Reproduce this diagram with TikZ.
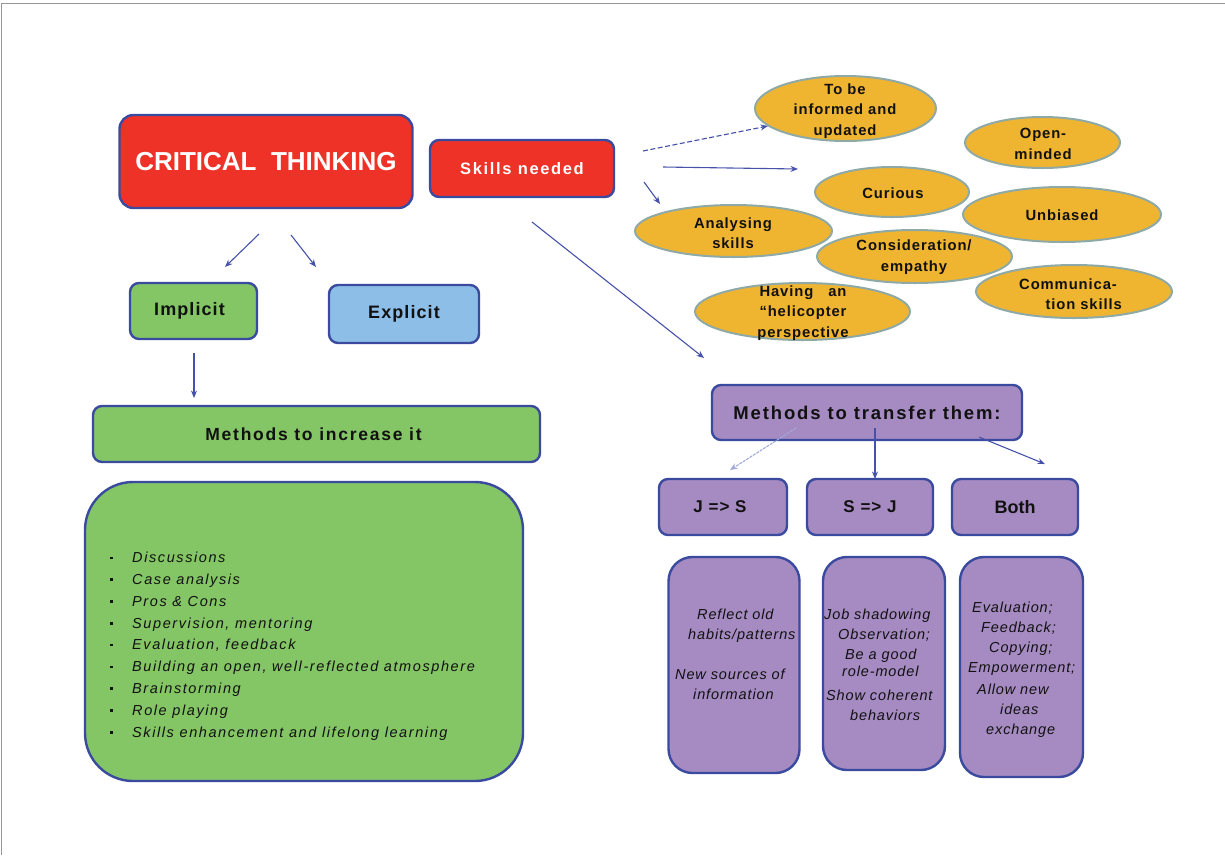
\documentclass[tikz,border=0pt]{standalone}
\usepackage{fontspec}
\setmainfont{Liberation Sans}
\newfontfamily\lsTen[LetterSpace=10]{Liberation Sans}
\newfontfamily\lsSix[LetterSpace=6]{Liberation Sans}
\newfontfamily\lsNine[LetterSpace=11]{Liberation Sans}
\usetikzlibrary{arrows.meta,shapes.geometric}
\definecolor{redf}{RGB}{238,50,40}
\definecolor{bordc}{RGB}{58,74,158}
\definecolor{greenf}{RGB}{132,197,101}
\definecolor{bluef}{RGB}{141,190,232}
\definecolor{purpf}{RGB}{166,139,194}
\definecolor{ellf}{RGB}{240,181,48}
\definecolor{ellb}{RGB}{143,170,166}
\definecolor{arrc}{RGB}{70,82,170}
\definecolor{arrl}{RGB}{160,168,218}
\definecolor{framec}{RGB}{150,150,150}
\definecolor{txtc}{RGB}{17,17,17}
\begin{document}
\begin{tikzpicture}[x=1pt,y=-1pt,
  box/.style={draw=bordc, line width=2.4pt, rounded corners=9pt, inner sep=0pt, align=center, text=txtc},
  ell/.style={ellipse, draw=ellb, line width=2pt, fill=ellf, inner sep=0pt},
  etext/.style={align=center, text=txtc, font=\lsSix\bfseries\fontsize{14.8}{20.5}\selectfont, inner sep=0pt},
  itext/.style={align=left, text=txtc, font=\lsSix\itshape\fontsize{14.5}{20}\selectfont, inner sep=0pt, anchor=north west},
  arr/.style={draw=arrc, line width=1.1pt, -{Stealth[length=7.5pt,width=6pt]}},
  framel/.style={draw=framec, line width=1pt}
]
\useasboundingbox (0,0) rectangle (1225,855);
\draw[framel] (1225,3) -- (1.5,3) -- (1.5,855);

% left part
\node[box, fill=redf, minimum width=293pt, minimum height=93pt, rounded corners=14pt, text=white, font=\bfseries\fontsize{26}{30}\selectfont] (ct) at (266,161.5) {CRITICAL\ \ THINKING};
\node[box, fill=redf, minimum width=184pt, minimum height=57pt, text=white, font=\lsTen\bfseries\fontsize{16.5}{20}\selectfont] (skills) at (522,168.5) {Skills needed};
\node[box, fill=greenf, minimum width=127pt, minimum height=56pt, font=\lsSix\bfseries\fontsize{18}{22}\selectfont] (impl) at (193.5,311) {\hspace*{-8pt}Implicit};
\node[box, fill=bluef, minimum width=150pt, minimum height=58pt, font=\lsSix\bfseries\fontsize{18}{22}\selectfont] (expl) at (404,314) {Explicit};
\node[box, fill=greenf, minimum width=447pt, minimum height=56pt, font=\lsTen\bfseries\fontsize{17.5}{20}\selectfont] (inc) at (316.5,434) {\hspace*{-6pt}Methods to increase it};
\node[box, fill=greenf, minimum width=438pt, minimum height=299pt, rounded corners=48pt] (list) at (304,631.5) {};
\node[itext, font=\lsNine\itshape\fontsize{14.5}{21.8}\selectfont] (listtxt) at (110,552) {%
\makebox[22pt][l]{\rule[3.5pt]{2.6pt}{2.6pt}}Discussions\\
\makebox[22pt][l]{\rule[3.5pt]{2.6pt}{2.6pt}}Case analysis\\
\makebox[22pt][l]{\rule[3.5pt]{2.6pt}{2.6pt}}Pros \& Cons\\
\makebox[22pt][l]{\rule[3.5pt]{2.6pt}{2.6pt}}Supervision, mentoring\\
\makebox[22pt][l]{\rule[3.5pt]{2.6pt}{2.6pt}}Evaluation, feedback\\
\makebox[22pt][l]{\rule[3.5pt]{2.6pt}{2.6pt}}Building an open, well-reflected atmosphere\\
\makebox[22pt][l]{\rule[3.5pt]{2.6pt}{2.6pt}}Brainstorming\\
\makebox[22pt][l]{\rule[3.5pt]{2.6pt}{2.6pt}}Role playing\\
\makebox[22pt][l]{\rule[3.5pt]{2.6pt}{2.6pt}}Skills enhancement and lifelong learning};

% ellipses
\node[ell, minimum width=181pt, minimum height=65pt] (e1) at (845.5,108.5) {};
\node[etext] (e1t) at (845,111) {To be\\informed and\\updated};
\node[ell, minimum width=155pt, minimum height=51pt] (e2) at (1042.5,142.5) {};
\node[etext] (e2t) at (1043,144) {Open-\\minded};
\node[ell, minimum width=154pt, minimum height=50pt] (e3) at (892,192) {};
\node[etext] (e3t) at (893,193) {Curious};
\node[ell, minimum width=198pt, minimum height=55pt] (e4) at (1062,214.5) {};
\node[etext] (e4t) at (1062,215) {Unbiased};
\node[ell, minimum width=197pt, minimum height=52pt] (e5) at (733.5,231) {};
\node[etext] (e5t) at (733,233) {Analysing\\skills};
\node[ell, minimum width=195pt, minimum height=53pt] (e6) at (914.5,256.5) {};
\node[etext] (e6t) at (914,257) {Consideration/\\empathy};
\node[ell, minimum width=196pt, minimum height=53pt] (e7) at (1074,291.5) {};
\node[etext, align=right, anchor=east] (e7t) at (1122,294) {Communica-\hspace*{5pt}\\tion skills};
\node[ell, minimum width=215pt, minimum height=57pt] (e8) at (802.5,311.5) {};
\node[etext] (e8t) at (803,313) {Having\ \ \ an\\“helicopter\\perspective};

% right part
\node[box, fill=purpf, minimum width=310pt, minimum height=55pt, font=\lsTen\bfseries\fontsize{18.5}{22}\selectfont] (trans) at (867,412.5) {Methods to transfer them:};
\node[box, fill=purpf, minimum width=128pt, minimum height=56pt, font=\lsSix\bfseries\fontsize{17}{20}\selectfont] (js) at (723,507) {\hspace*{-6pt}J => S};
\node[box, fill=purpf, minimum width=126pt, minimum height=56pt, font=\lsSix\bfseries\fontsize{17}{20}\selectfont] (sj) at (870,507) {S => J};
\node[box, fill=purpf, minimum width=126pt, minimum height=56pt, font=\bfseries\fontsize{18}{22}\selectfont] (both) at (1015,507) {Both};

\node[box, fill=purpf, minimum width=131pt, minimum height=216pt, rounded corners=24pt] (b1) at (734,665) {};
\node[box, fill=purpf, minimum width=122pt, minimum height=213pt, rounded corners=24pt] (b2) at (884,663.5) {};
\node[box, fill=purpf, minimum width=123pt, minimum height=220pt, rounded corners=24pt] (b3) at (1021.5,667) {};

\node[itext] (b1t) at (675,609) {\hspace*{22pt}Reflect old\\\hspace*{13pt}habits/patterns\\[20pt]New sources of\\\hspace*{18pt}information};
\node[itext] (b2t) at (824,609) {Job shadowing\\\hspace*{14pt}Observation;\\\hspace*{21pt}Be a good\\[-3pt]\hspace*{18pt}role-model\\[4pt]\hspace*{2pt}Show coherent\\\hspace*{26pt}behaviors};
\node[itext] (b3t) at (968,602) {\hspace*{4pt}Evaluation;\\\hspace*{13pt}Feedback;\\\hspace*{21pt}Copying;\\Empowerment;\\[2pt]\hspace*{9pt}Allow new\\\hspace*{32pt}ideas\\\hspace*{18pt}exchange};

% connectors
\coordinate (a1s) at (259,234); \coordinate (a1e) at (225,267);
\coordinate (a2s) at (291,235); \coordinate (a2e) at (316,267);
\coordinate (a3s) at (194,353); \coordinate (a3e) at (194,398);
\coordinate (s1s) at (643,151); \coordinate (s1e) at (768,126);
\coordinate (s2s) at (663,167); \coordinate (s2e) at (798,169);
\coordinate (s3s) at (644,182); \coordinate (s3e) at (660,204);
\coordinate (s4s) at (532,222); \coordinate (s4e) at (704,358);
\coordinate (t1s) at (796,428); \coordinate (t1e) at (730,470);
\coordinate (t2s) at (875,428); \coordinate (t2e) at (875,479);
\coordinate (t3s) at (979,437); \coordinate (t3e) at (1045,464);

\draw[arr] (a1s) -- (a1e);
\draw[arr] (a2s) -- (a2e);
\draw[arr] (a3s) -- (a3e);
\draw[arr, dash pattern=on 5pt off 2.5pt] (s1s) -- (s1e);
\draw[arr] (s2s) -- (s2e);
\draw[arr] (s3s) -- (s3e);
\draw[arr] (s4s) -- (s4e);
\draw[arr, draw=arrl, dash pattern=on 3pt off 1pt] (t1s) -- (t1e);
\draw[arr] (t2s) -- (t2e);
\draw[arr] (t3s) -- (t3e);
\end{tikzpicture}
\end{document}
